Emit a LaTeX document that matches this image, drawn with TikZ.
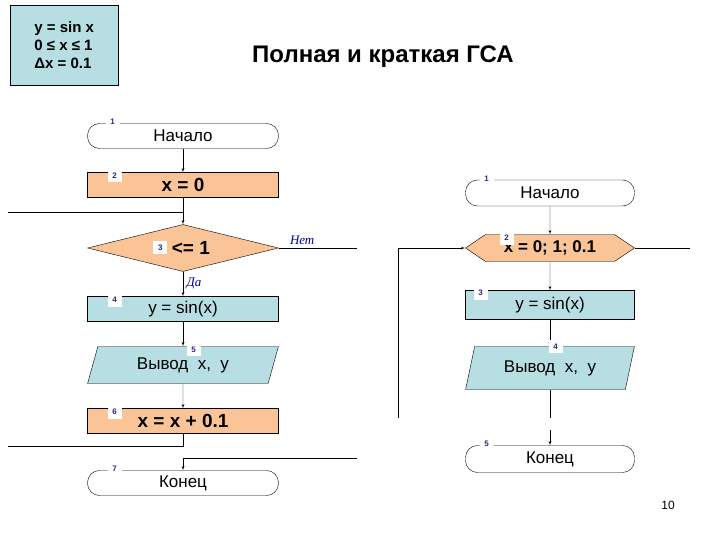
\documentclass[tikz,border=0pt]{standalone}
\usepackage{fontspec}
\setmainfont{Liberation Sans}
\newfontfamily\serifit{Liberation Serif}
\usetikzlibrary{shapes.geometric,shapes.symbols,arrows}
\definecolor{orang}{RGB}{250,196,150}
\definecolor{bir}{RGB}{183,222,226}
\definecolor{nomblue}{RGB}{40,40,120}
\tikzstyle{blok}=[draw, minimum height=25pt, minimum width=191pt, inner sep=0pt,
  font=\fontsize{17}{18}\selectfont]
\tikzstyle{term} = [blok, rounded corners=12pt]
\tikzstyle{deystv} = [blok, fill=orang, font=\fontsize{19}{20}\selectfont\bfseries]
\tikzstyle{vych} = [blok, fill=bir]
\tikzstyle{vvod} = [blok, fill=bir, trapezium, trapezium left angle=70,
  trapezium right angle=110, trapezium stretches=true, minimum height=37pt]
\tikzstyle{uslov} = [deystv, diamond, aspect=4.06, minimum width=191pt, minimum height=47pt]
\tikzstyle{cikl} = [deystv, font=\fontsize{17}{18}\selectfont\bfseries, signal,
  signal to=west and east, signal pointer angle=68, minimum width=169pt, minimum height=27pt]
\tikzstyle{nom} = [fill=white, text=nomblue, inner sep=1.5pt, minimum width=14pt,
  minimum height=13pt, font=\footnotesize\bfseries]
\tikzstyle{line} = [draw, -latex']
\tikzstyle{otvet} = [text=blue!60!black, font=\fontsize{13}{13}\selectfont\serifit\itshape]
\newcommand{\nomer}[3]{\node (t#1) [nom, anchor=north west] at ([shift={(#3)}]#1.north west) {#2};}

\begin{document}
\begin{tikzpicture}[x=1pt,y=-1pt]
\useasboundingbox (0,0) rectangle (720,540);

  % Header
\node (usl) [draw, fill=bir, minimum width=108pt, minimum height=80pt, anchor=north west,
  align=left, font=\fontsize{15}{18}\selectfont\bfseries] at (10,5)
  {y = sin x\\0 ≤ x ≤ 1\\Δx = 0.1};
\node (zag) [font=\fontsize{24}{26}\selectfont\bfseries] at (383,57) {Полная и краткая ГСА};
\node (str) [font=\fontsize{12}{12}\selectfont] at (668,505) {10};

  % Full scheme
\node (a1) [term] at (183,136) {Начало};
\node (a2) [deystv] at (183,185) {x = 0};
\node (a3) [uslov] at (183,248) {x <= 1};
\node (a4) [vych] at (183,309) {y = sin(x)};
\node (a5) [vvod] at (183,365) {Вывод~ x,~ y};
\node (a6) [deystv] at (183,421) {x = x + 0.1};
\node (a7) [term] at (183,483) {Конец};
\coordinate (vozv) at (8,212);
\coordinate (vyh) at (357,248);
\coordinate (vozv2) at (8,446);
\coordinate (vyh2) at (357,458);

\path [line] (a1) -- (a2);
\path [line] (a2) -- (a3);
\path [draw] (vozv) -- (vozv -| a3) ;
\path [draw] (a3.east) -- node [otvet, above, pos=0.3] {Нет} (vyh);
\path [line] (a3) -- node [otvet, right] {Да} (a4);
\path [line] (a4) -- (a5);
\path [line] (a5) -- (a6);
\path [draw] (a6.south) |- (vozv2);
\path [line] (vyh2) -| (a7.north);
\nomer{a1}{1}{18,-8}
\nomer{a2}{2}{20,-3}
\nomer{a3}{3}{18,5}
\nomer{a4}{4}{20,-3}
\nomer{a5}{5}{22,-3}
\nomer{a6}{6}{20,-3}
\nomer{a7}{7}{20,-8}

  % Short scheme
\node (b1) [term, minimum width=169pt, minimum height=26pt] at (550,193) {Начало};
\node (b2) [cikl] at (550,248) {x = 0; 1; 0.1};
\node (b3) [vych, minimum width=169pt, minimum height=29pt] at (550,305) {y = sin(x)};
\node (b4) [vvod, minimum width=169pt, minimum height=43pt] at (550,368) {Вывод~ x,~ y};
\node (b5) [term, minimum width=169pt, minimum height=27pt] at (550,459) {Конец};
\coordinate (levo) at (398,418);
\coordinate (pravo) at (690,248);
\coordinate (niz) at (550,418);
\coordinate (verh) at (550,430);

\path [line] (b1) -- (b2);
\path [line] (b2) -- (b3);
\path [line] (b3) -- (b4);
\path [draw] (b4) -- (niz);
\path [line] (verh) -- (b5);
\path [line] (levo) |- (b2.west);
\path [draw] (b2.east) -- (pravo);
\nomer{b1}{1}{14,-8}
\nomer{b2}{2}{14,-3}
\nomer{b3}{3}{8,-4}
\nomer{b4}{4}{20,-6}
\nomer{b5}{5}{14,-8}
\end{tikzpicture}
\end{document}
